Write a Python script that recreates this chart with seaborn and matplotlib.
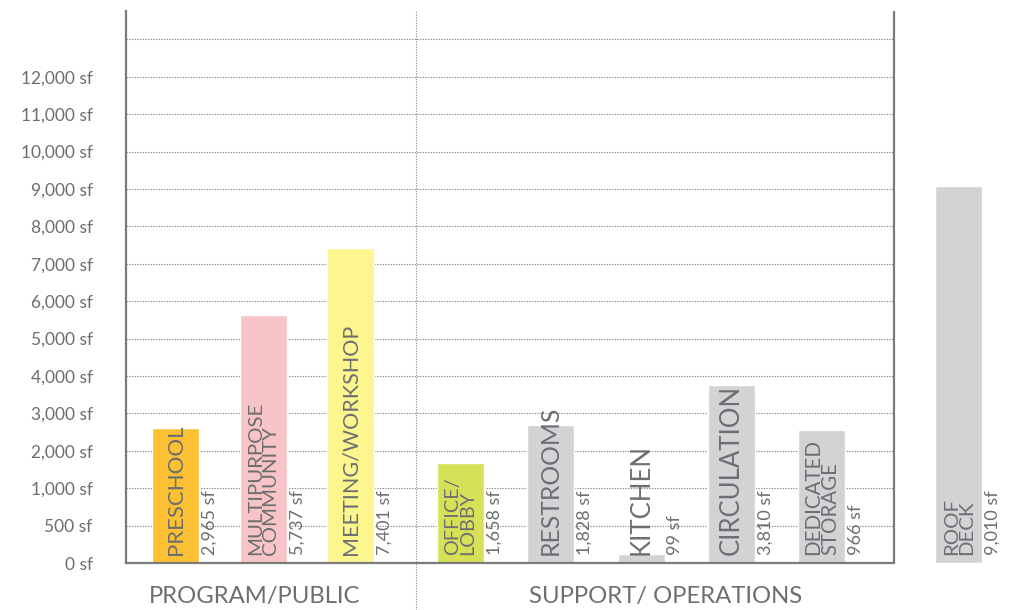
import numpy as np
import pandas as pd
import matplotlib
matplotlib.use("Agg")
import matplotlib.pyplot as plt
import matplotlib.transforms as mtransforms
import seaborn as sns

# ---------------- data ----------------
names = ["PRESCHOOL", "MULTIPURPOSE\nCOMMUNITY", "MEETING/WORKSHOP",
         "OFFICE/\nLOBBY", "RESTROOMS", "KITCHEN", "CIRCULATION",
         "DEDICATED\nSTORAGE", "ROOF\nDECK"]
groups = ["PROGRAM/PUBLIC"] * 3 + ["SUPPORT/ OPERATIONS"] * 5 + ["ROOF"]
bar_sf = [2610, 5630, 7420, 1670, 2690, 124, 3760, 2560, 9080]   # drawn heights
label_sf = ["2,965 sf", "5,737 sf", "7,401 sf", "1,658 sf", "1,828 sf",
            "99 sf", "3,810 sf", "966 sf", "9,010 sf"]
ytick_values = [0, 500, 1000, 2000, 3000, 4000, 5000, 6000, 7000, 8000,
                9000, 10000, 11000, 12000]
ytick_labels = ["0 sf", "500 sf", "1,000 sf", "2,000 sf", "3,000 sf",
                "4,000 sf", "5,000 sf", "6,000 sf", "7,000 sf", "8,000 sf",
                "9,000 sf", "10,000 sf", "11,000 sf", "12,000 sf"]
grid_values = [500, 1000, 2000, 3000, 4000, 5000, 6000, 7000, 8000, 9000,
               10000, 11000, 12000, 13000]
group_titles = ["PROGRAM/PUBLIC", "SUPPORT/ OPERATIONS"]

# ---------------- styles ----------------
colors = {"PRESCHOOL": "#FCC133", "MULTIPURPOSE\nCOMMUNITY": "#F7C5C7",
          "MEETING/WORKSHOP": "#FDF58E", "OFFICE/\nLOBBY": "#D7E157",
          "RESTROOMS": "#D2D3D5", "KITCHEN": "#D2D3D5",
          "CIRCULATION": "#D2D3D5", "DEDICATED\nSTORAGE": "#D2D3D5",
          "ROOF\nDECK": "#D2D3D5"}
name_size = {"PRESCHOOL": 16, "MULTIPURPOSE\nCOMMUNITY": 14.7,
             "MEETING/WORKSHOP": 15.5, "OFFICE/\nLOBBY": 14.3,
             "RESTROOMS": 17.8, "KITCHEN": 18.5, "CIRCULATION": 18.5,
             "DEDICATED\nSTORAGE": 14.8, "ROOF\nDECK": 14.7}
TXT = "#6d6e71"
AX = "#7b7b7b"

sns.set_style("white")
plt.rcParams["font.family"] = ["Lato", "DejaVu Sans"]

# layout of bar positions (units of one bar slot)
group_start = {"PROGRAM/PUBLIC": 0.0, "SUPPORT/ OPERATIONS": 3.22, "ROOF": 8.85}
group_step = {"PROGRAM/PUBLIC": 0.99, "SUPPORT/ OPERATIONS": 1.02, "ROOF": 1.0}
pos = []
counter = {}
for g in groups:
    k = counter.get(g, 0)
    pos.append(group_start[g] + k * group_step[g])
    counter[g] = k + 1

df = pd.DataFrame({"pos": pos, "sf": bar_sf, "name": names})

unit_px = 88.5
x0_px = 175.5
def px2x(p):
    return (p - x0_px) / unit_px

fig = plt.figure(figsize=(10.09, 6.10), dpi=100)
ax = fig.add_axes([126 / 1009, 47 / 610, 1 - 126 / 1009, (563 - 11) / 610])

bar_w = 47 / unit_px
min_gap = min(np.diff(sorted(pos)))
sns.barplot(data=df, x="pos", y="sf", hue="name", palette=colors,
            native_scale=True, dodge=False, legend=False, errorbar=None,
            width=bar_w / min_gap, saturation=1, ax=ax, zorder=2)

def fwd(v):
    v = np.asarray(v, dtype=float)
    return np.where(v <= 1000, v / 500.0, 1 + v / 1000.0)

def inv(s):
    s = np.asarray(s, dtype=float)
    return np.where(s <= 2, s * 500.0, (s - 1) * 1000.0)

ax.set_yscale("function", functions=(fwd, inv))
ax.set_ylim(0, float(inv(14.76)))
xl, xr = px2x(126), px2x(1009)
ax.set_xlim(xl, xr)
x_right_spine = px2x(894)
x_sep = px2x(415.5)

ax.set_yticks(ytick_values)
ax.set_yticklabels(ytick_labels)
ax.tick_params(axis="y", length=0, pad=24, labelsize=12.5, labelcolor=TXT)
ax.set_xticks([])
ax.set_xlabel("")
ax.set_ylabel("")

for s in ["top", "right"]:
    ax.spines[s].set_visible(False)
ax.spines["left"].set_color(AX)
ax.spines["left"].set_linewidth(1.6)
ax.spines["bottom"].set_color(AX)
ax.spines["bottom"].set_linewidth(1.6)
ax.spines["bottom"].set_bounds(xl, x_right_spine)

ax.hlines(grid_values, xl, x_right_spine, colors="#8a8a8a", linewidth=0.8,
          linestyles=(0, (1.2, 1.2)), zorder=1)
ax.axvline(x_right_spine, 0, 1, color=AX, linewidth=1.6, zorder=3)
ax.axvline(x_sep, -47 / 552, 1, color="#9a9a9a", linewidth=0.8,
           linestyle=(0, (1.2, 1.2)), clip_on=False, zorder=1)

# labels on bars
for p, n, lab in zip(pos, names, label_sf):
    ax.annotate(n, xy=(p, 0), xytext=(0, 6), textcoords="offset points",
                rotation=90, ha="center", va="bottom", color=TXT,
                fontsize=name_size[n], linespacing=0.85, zorder=4,
                multialignment="left")
    ax.annotate(lab, xy=(p + bar_w / 2, 0), xytext=(2, 6),
                textcoords="offset points", rotation=90, ha="left",
                va="bottom", color=TXT, fontsize=13, zorder=4)

trans = mtransforms.blended_transform_factory(ax.transData, ax.transAxes)
ax.text(px2x(255), -33 / 552, group_titles[0], transform=trans, ha="center",
        va="center", fontsize=17.2, color=TXT)
ax.text(px2x(666), -33 / 552, group_titles[1], transform=trans, ha="center",
        va="center", fontsize=17.2, color=TXT)

fig.savefig("out.png", dpi=100)
